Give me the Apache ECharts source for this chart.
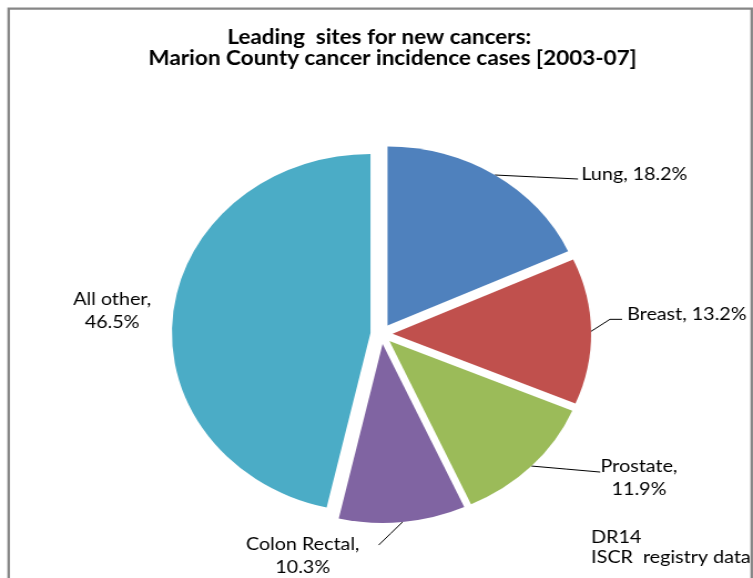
<!DOCTYPE html>
<html>
<head>
<meta charset="utf-8">
<title>Leading sites for new cancers</title>
<style>
  html, body { margin: 0; padding: 0; background: #fff; overflow: hidden; }
  #wrap { position: relative; width: 753px; height: 578px; overflow: hidden; }
  /* the chart is laid out narrower and stretched sideways, giving the oval pie */
  #chart { position: absolute; left: 0; top: 0; width: 679px; height: 578px;
           transform-origin: 0 0; transform: scaleX(1.109); }
</style>
<script src="https://cdn.jsdelivr.net/npm/echarts@6.0.0/dist/echarts.min.js"></script>
</head>
<body>
<div id="wrap"><div id="chart"></div></div>
<script>
// ---- data ----
const titleLines = ['Leading  sites for new cancers:', 'Marion County cancer incidence cases [2003-07]'];
const sites = ['Lung', 'Breast', 'Prostate', 'Colon Rectal', 'All other'];
const shares = [18.2, 13.2, 11.9, 10.3, 46.5];
const sourceNote = ['DR14', 'ISCR  registry data'];

// ---- styling / layout ----
const palette = ['#4F81BD', '#C0504D', '#9BBB59', '#8064A2', '#4BACC6'];
const wrapLabel = [false, false, true, true, true];
const FONT = 'Lato, "Open Sans", "Noto Sans", sans-serif';
const PIE = { cx: 344, cy: 334, r: 179, off: 10 };

// label placement relative to the outer mid-point of each exploded slice
const labelPlace = [
  { dx: 78,   dy: -1,   align: 'left',   line: [[75, 4]] },
  { dx: 32.5, dy: -17,  align: 'left',   line: [[17, -12], [28, -12]] },
  { dx: 97,   dy: 12,   align: 'center', line: [[62, 6]] },
  { dx: -90,  dy: 33.5, align: 'center', line: [[-21.5, 23]] },
  { dx: -55,  dy: -2.5, align: 'center', line: null }
];

const total = shares.reduce((a, b) => a + b, 0);
const midAngles = [];
{
  let acc = 0;
  shares.forEach(v => { midAngles.push((acc + v / 2) / total * 2 * Math.PI); acc += v; });
}
// outer mid-point of slice i once pulled away from the centre
function outerMid(i) {
  const a = midAngles[i], d = PIE.r + PIE.off;
  return [PIE.cx + d * Math.sin(a), PIE.cy - d * Math.cos(a)];
}

const chart = echarts.init(document.getElementById('chart'), null, { renderer: 'canvas' });

const titleStyle = { fontFamily: FONT, fontWeight: 'bold', fontSize: 20.3, color: '#000' };

// each slice gets its own pie series whose centre is pushed out along the slice's mid-angle;
// the other slices of that series stay invisible, so the pie appears exploded
const sliceSeries = sites.map((_, i) => ({
  type: 'pie',
  center: [PIE.cx + PIE.off * Math.sin(midAngles[i]), PIE.cy - PIE.off * Math.cos(midAngles[i])],
  radius: PIE.r,
  startAngle: 90,
  clockwise: true,
  silent: true,
  avoidLabelOverlap: false,
  emphasis: { disabled: true },
  itemStyle: { borderWidth: 0 },
  data: sites.map((name, j) => ({
    name, value: shares[j],
    itemStyle: { color: j === i ? palette[j] : 'rgba(0,0,0,0)' },
    label: { show: j === i },
    labelLine: { show: j === i && !!labelPlace[j].line }
  })),
  label: {
    position: 'outside',
    fontFamily: FONT, fontSize: 17.8, lineHeight: 23, color: '#000',
    formatter: p => p.name + ',' + (wrapLabel[p.dataIndex] ? '\n' : ' ') + p.value.toFixed(1) + '%'
  },
  labelLine: { lineStyle: { color: '#000', width: 1 } },
  labelLayout: params => {
    const k = params.dataIndex;
    if (k !== i) return {};
    const P = labelPlace[k];
    const A = outerMid(k);
    const out = { x: A[0] + P.dx, y: A[1] + P.dy, align: P.align, verticalAlign: 'middle' };
    if (P.line) {
      const pts = [A].concat(P.line.map(q => [A[0] + q[0], A[1] + q[1]]));
      if (pts.length === 2) pts.splice(1, 0, [(pts[0][0] + pts[1][0]) / 2, (pts[0][1] + pts[1][1]) / 2]);
      out.labelLinePoints = pts;
    }
    return out;
  }
}));

chart.setOption({
  animation: false,
  backgroundColor: '#fff',
  title: [
    { text: titleLines[0], left: 342, top: 27.5, textAlign: 'center', padding: 0, textStyle: titleStyle },
    { text: titleLines[1], left: 354, top: 48.5, textAlign: 'center', padding: 0, textStyle: titleStyle },
    { text: sourceNote.join('\n'), left: 533, top: 527, textAlign: 'left', padding: 0,
      textStyle: { fontFamily: FONT, fontWeight: 'normal', fontSize: 17.8, lineHeight: 20.5, color: '#000' } }
  ],
  graphic: [{
    type: 'rect', silent: true, z: 100,
    shape: { x: 7.8, y: 8.7, width: 670, height: 620 },
    style: { fill: 'none', stroke: '#868686', lineWidth: 2.3 }
  }],
  series: sliceSeries
});
</script>
</body>
</html>
